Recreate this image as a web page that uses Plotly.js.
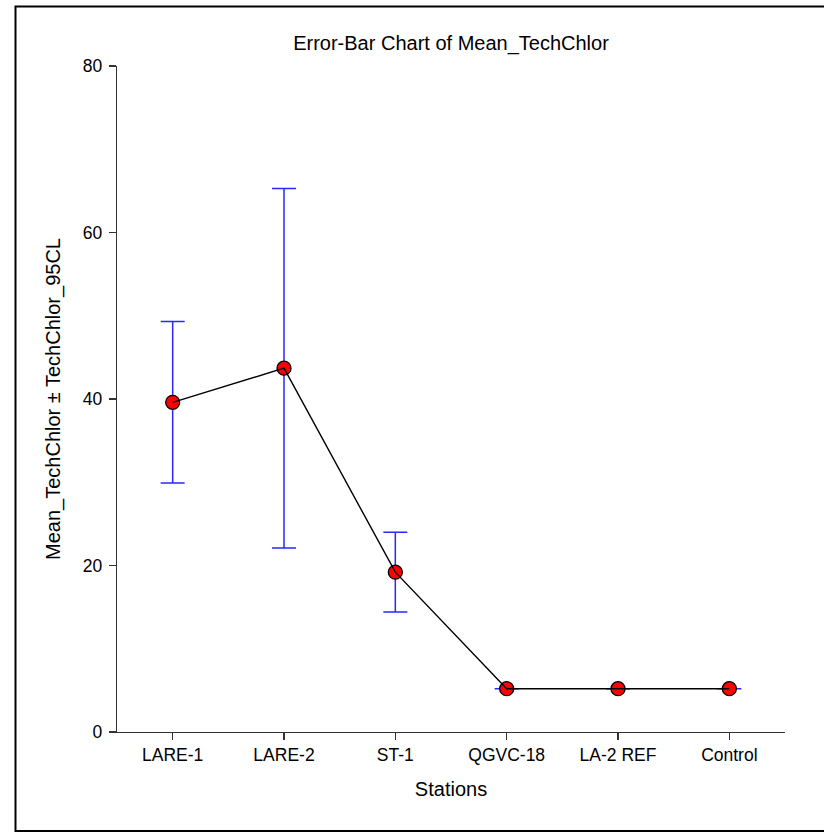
<!DOCTYPE html>
<html>
<head>
<meta charset="utf-8">
<script src="https://cdn.plot.ly/plotly-3.0.1.min.js"></script>
<style>
html,body{margin:0;padding:0;background:#fff;}
#chart{width:824px;height:833px;}
</style>
</head>
<body>
<div id="chart"></div>
<script>
const stations = ["LARE-1", "LARE-2", "ST-1", "QGVC-18", "LA-2 REF", "Control"];
const meanTechChlor = [39.6, 43.7, 19.2, 5.2, 5.2, 5.2];
const techChlor95CL = [9.7, 21.6, 4.8, 0, 0, 0];
const yTicks = [0, 20, 40, 60, 80];

const W = 824, H = 833;
const m = {l: 117, r: 39, t: 66, b: 101};
const pw = W - m.l - m.r, ph = H - m.t - m.b;
const px = v => (v - m.l) / pw;
const py = v => (H - m.b - v) / ph;

const font = "Arial, 'Liberation Sans', sans-serif";

const traces = [
  {
    x: stations, y: meanTechChlor, type: "scatter", mode: "markers",
    marker: {color: "#ff0000", size: 14, line: {color: "#000", width: 1.3}},
    error_y: {type: "data", array: techChlor95CL, visible: true, color: "rgb(40,40,255)", thickness: 1.5, width: 12},
    showlegend: false, hoverinfo: "x+y"
  },
  {
    x: stations, y: meanTechChlor, type: "scatter", mode: "lines",
    line: {color: "#000", width: 1.4},
    showlegend: false, hoverinfo: "skip"
  }
];

const layout = {
  width: W, height: H,
  margin: m,
  paper_bgcolor: "#fff", plot_bgcolor: "#fff",
  font: {family: font, color: "#000", size: 17.5},
  title: {text: "Error-Bar Chart of Mean_TechChlor", font: {family: font, size: 20, color: "#000"},
          x: (m.l + pw / 2) / W, xanchor: "center", y: 1 - 43 / H, yanchor: "middle", xref: "container", yref: "container"},
  xaxis: {
    type: "category", range: [-0.5, 5.5],
    showline: true, linecolor: "#333", linewidth: 1.3, zeroline: false, showgrid: false,
    ticks: "outside", ticklen: 7, tickcolor: "#333", tickwidth: 1.3,
    tickfont: {family: font, size: 17.5, color: "#000"},
    title: {text: "Stations", font: {family: font, size: 20, color: "#000"}, standoff: 17}
  },
  yaxis: {
    range: [0, 80], tickvals: yTicks, ticktext: yTicks.map(String),
    showline: true, linecolor: "#333", linewidth: 1.3, zeroline: false, showgrid: false,
    ticks: "outside", ticklen: 7, tickcolor: "#333", tickwidth: 1.3, ticklabelstandoff: 3,
    tickfont: {family: font, size: 17.5, color: "#000"},
    title: {text: "Mean_TechChlor ± TechChlor_95CL", font: {family: font, size: 20, color: "#000"}, standoff: 16}
  },
  shapes: [
    {type: "rect", xref: "paper", yref: "paper",
     x0: px(15.5), x1: px(835), y0: py(831), y1: py(6.5),
     line: {color: "#000", width: 2}, fillcolor: "rgba(0,0,0,0)", layer: "above"}
  ]
};

Plotly.newPlot("chart", traces, layout, {displayModeBar: false, staticPlot: true});
</script>
</body>
</html>
